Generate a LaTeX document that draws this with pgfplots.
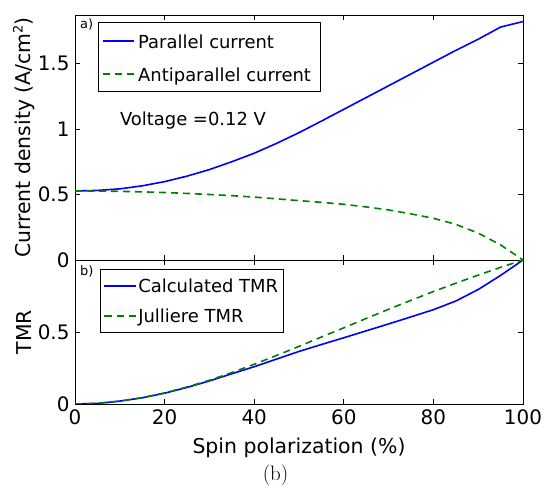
\documentclass[border=0pt]{standalone}
\usepackage{fontspec}
\newfontfamily\dv{DejaVu Sans}
\usepackage{pgfplots}
\pgfplotsset{compat=1.18}
\definecolor{mblue}{rgb}{0,0,1}
\definecolor{mgreen}{rgb}{0,0.5,0}

% current densities (A/cm^2)
\pgfplotstableread{
P   Jp     Jap
0   0.527  0.527
5   0.531  0.526
10  0.543  0.524
15  0.566  0.520
20  0.598  0.515
25  0.640  0.508
30  0.690  0.500
35  0.750  0.491
40  0.815  0.480
45  0.890  0.467
50  0.972  0.453
55  1.060  0.440
60  1.150  0.425
65  1.240  0.405
70  1.330  0.382
75  1.420  0.352
80  1.510  0.318
85  1.600  0.272
90  1.685  0.205
95  1.778  0.115
100 1.820  0.000
}\currents

\pgfplotstableread{
P   calc   jull
0   0.000  0.000
5   0.004  0.005
10  0.020  0.020
15  0.043  0.044
20  0.075  0.077
25  0.115  0.118
30  0.160  0.165
35  0.210  0.218
40  0.259  0.276
45  0.312  0.337
50  0.365  0.400
55  0.413  0.465
60  0.460  0.529
65  0.508  0.594
70  0.556  0.658
75  0.605  0.720
80  0.655  0.781
85  0.715  0.839
90  0.795  0.895
95  0.893  0.949
100 1.000  1.000
}\tmr

\pgfplotsset{
  panel/.style={
    scale only axis, width=448bp, anchor=south west,
    xmin=0, xmax=100, xtick={0,20,...,100},
    axis line style={line width=0.8bp},
    tick align=inside, major tick length=5bp,
    major tick style={black, line width=0.8bp},
    /pgf/number format/assume math mode=true,
    tick label style={font=\dv\fontsize{20}{24}\selectfont},
    yticklabel style={xshift=-2bp},
    xticklabel style={yshift=-2bp},
    label style={font=\dv\fontsize{20.5}{24}\selectfont},
    ylabel style={at={(axis description cs:-0.1138,0.5)}, anchor=center},
    legend cell align=left,
    legend style={draw=black, line width=0.8bp, fill=white,
      font=\dv\fontsize{18}{21}\selectfont,
      inner xsep=3.3bp, inner ysep=7bp, row sep=11bp,
      nodes={inner sep=2bp}, anchor=north west},
    legend image code/.code={\draw[#1] (0bp,0bp) -- (31bp,0bp);},
  },
  pline/.style={color=mblue, line width=1.6bp},
  dline/.style={color=mgreen, line width=1.6bp, dash pattern=on 7bp off 5bp},
}

\begin{document}
\begin{tikzpicture}[x=1bp,y=1bp]
\useasboundingbox (0,0) rectangle (546,491);
\coordinate (topSW) at (75,231);
\coordinate (botSW) at (75,87);

\begin{axis}[panel, at={(topSW)}, height=245bp,
  ymin=0, ymax=1.87, ytick={0,0.5,1,1.5},
  xticklabels={},
  ylabel={Current density (A/cm\raisebox{0.75ex}{\fontsize{13}{13}\selectfont 2})}]
\coordinate (volt) at (axis cs:10,1.023);
\coordinate (lblA) at (rel axis cs:0.011,0.984);
\coordinate (legA) at (rel axis cs:0.0507,0.970);
\addplot[pline] table[x=P, y=Jp] {\currents};
\addplot[dline] table[x=P, y=Jap] {\currents};
\end{axis}

\begin{axis}[panel, at={(botSW)}, height=144bp,
  ymin=0, ymax=1, ytick={0,0.5},
  xlabel={Spin polarization (\%)},
  xlabel style={at={(axis description cs:0.5,0)}, anchor=base, yshift=-49bp},
  ylabel={TMR},
  legend style={at={(0.0558,0.9375)}}]
\coordinate (lblB) at (rel axis cs:0.011,0.965);
\addplot[pline] table[x=P, y=calc] {\tmr};
\addlegendentry{Calculated TMR}
\addplot[dline] table[x=P, y=jull] {\tmr};
\addlegendentry{Julliere TMR}
\end{axis}

% legend box of panel a)
\node[draw=black, line width=0.8bp, fill=white, anchor=north west, inner sep=0,
  minimum width=222bp, minimum height=69bp] (LA) at (legA) {};
\draw[color=mblue, line width=1.6bp] ([shift={(5.3,-18.7)}]LA.north west) -- +(31,0);
\draw[color=mgreen, line width=1.6bp, dash pattern=on 7bp off 5bp]
  ([shift={(5.3,-51.7)}]LA.north west) -- +(31,0);
\node[anchor=base west, inner sep=0, font=\dv\fontsize{18}{21}\selectfont]
  at ([shift={(40.3,-26)}]LA.north west) {Parallel current};
\node[anchor=base west, inner sep=0, font=\dv\fontsize{18}{21}\selectfont]
  at ([shift={(40.3,-59)}]LA.north west) {Antiparallel current};

\node[anchor=base west, inner sep=0, font=\dv\fontsize{18}{21}\selectfont]
  at (volt) {Voltage =0.12 V};
\node[anchor=north west, inner sep=0, font=\dv\fontsize{13}{15}\selectfont]
  at (lblA) {a)};
\node[anchor=north west, inner sep=0, font=\dv\fontsize{13}{15}\selectfont]
  at (lblB) {b)};
\node[anchor=base, font=\fontsize{21}{25}\selectfont] at (275.5,10) {(b)};
\end{tikzpicture}
\end{document}
